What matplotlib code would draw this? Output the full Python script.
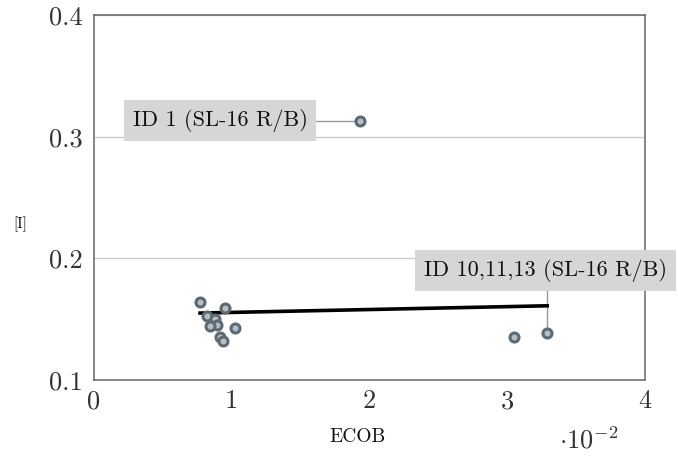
import matplotlib
matplotlib.use("Agg")
import matplotlib.pyplot as plt

plt.rcParams['font.family'] = ['cmr10', 'DejaVu Serif']
plt.rcParams['mathtext.fontset'] = 'cm'
plt.rcParams['axes.formatter.use_mathtext'] = True

# data (x in units of 1e-2)
ecob = [0.77, 0.95, 0.82, 0.88, 0.89, 0.84, 1.02, 0.915, 0.94, 3.05, 3.29, 1.93]
ival = [0.164, 0.159, 0.153, 0.150, 0.145, 0.144, 0.143, 0.135, 0.132, 0.135, 0.139, 0.313]
fit_x = [0.77, 3.29]
fit_y = [0.155, 0.161]
xticks = [0, 1, 2, 3, 4]
yticks = [0.1, 0.2, 0.3, 0.4]
labels = ['ID 1 (SL-16 R/B)', 'ID 10,11,13 (SL-16 R/B)']

fig = plt.figure(figsize=(6.78, 4.61), dpi=100)
ax = fig.add_axes([94/678, 1-380/461, (645-94)/678, (380-15)/461])

ax.set_xlim(0, 4)
ax.set_ylim(0.1, 0.4)
ax.set_xticks(xticks)
ax.set_xticklabels([str(t) for t in xticks])
ax.set_yticks(yticks)
ax.set_yticklabels([f"{t:.1f}" for t in yticks])
ax.tick_params(length=0, labelsize=19, colors='#333333')
ax.tick_params(axis='x', pad=7)
ax.tick_params(axis='y', pad=8)
ax.yaxis.grid(True, color='#c8c8c8', lw=0.9)
ax.set_axisbelow(True)
for s in ax.spines.values():
    s.set_color('#666666')
    s.set_linewidth(1.1)

ax.plot(fit_x, fit_y, color='black', lw=2.6, zorder=3)
ax.scatter(ecob, ival, s=42, facecolor='#b7bec4', edgecolor='#5d6a73', linewidths=2.2, zorder=4)

box = dict(boxstyle='square,pad=0.4', fc='#d6d6d6', ec='none')

# label 1: box to the left, horizontal connector
lx1 = 1.55
ax.plot([lx1, ecob[11]], [ival[11], ival[11]], color='#999999', lw=1.0, zorder=2)
ax.text(lx1, ival[11], labels[0], fontsize=16, ha='right', va='center',
        color='#111111', bbox=box, zorder=5)

# label 2: box above, vertical connector
ly2 = 0.190
ax.plot([ecob[10], ecob[10]], [ival[10], ly2], color='#999999', lw=1.0, zorder=2)
ax.text(3.28, ly2, labels[1], fontsize=16, ha='center', va='center',
        color='#111111', bbox=box, zorder=5, clip_on=False)

fig.text(20/678, 1-224/461, '[I]', fontsize=11, ha='center', va='center', color='#111111')
fig.text(358/678, 1-437/461, 'ECOB', fontsize=14, ha='center', va='center', color='#111111')
fig.text(589/678, 1-440/461, r'$\cdot10^{-2}$', fontsize=19, ha='center', va='center', color='#333333')

fig.savefig('out.png', dpi=100)
